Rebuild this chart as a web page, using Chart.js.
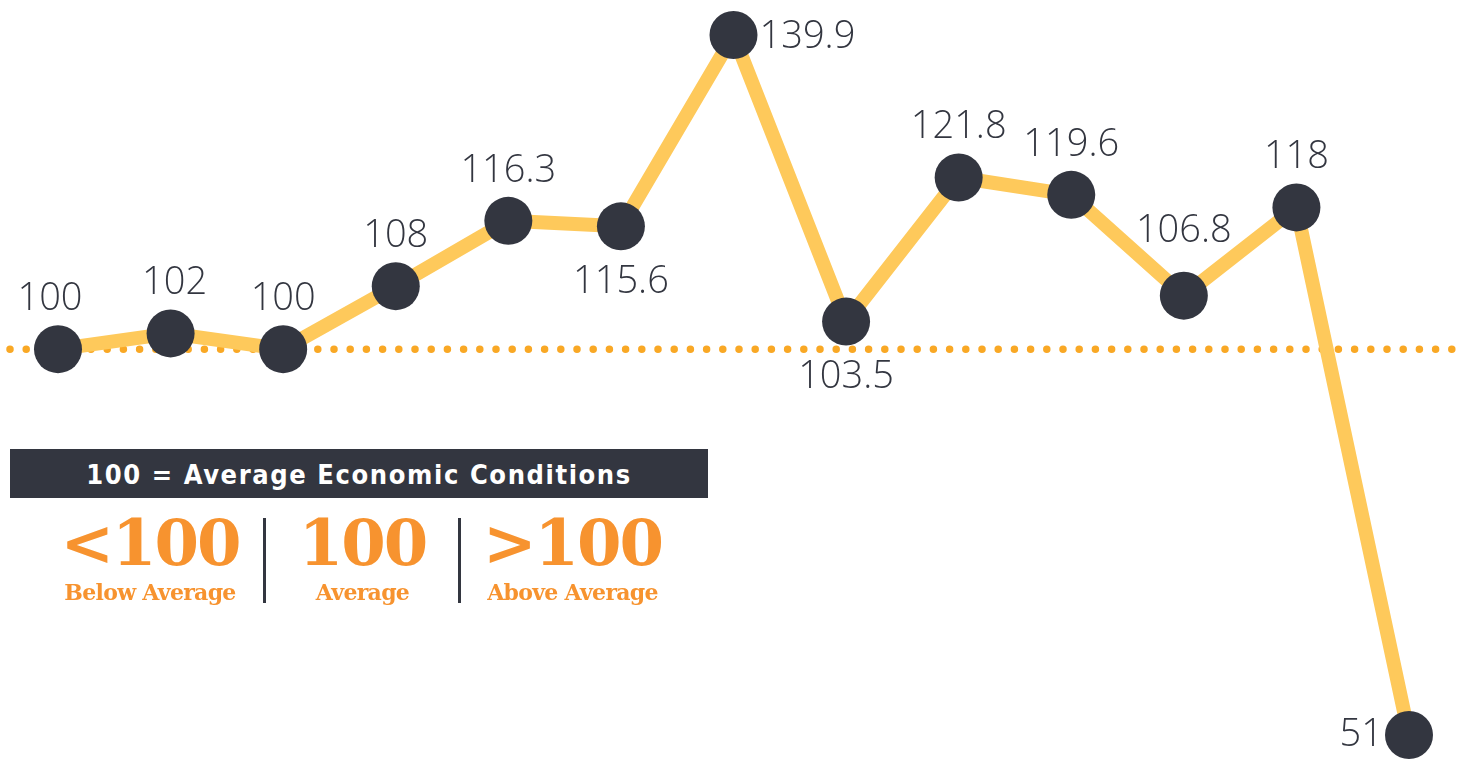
<!DOCTYPE html>
<html>
<head>
<meta charset="utf-8">
<script src="https://cdn.jsdelivr.net/npm/chart.js@4/dist/chart.umd.min.js"></script>
<style>
  html, body { margin: 0; padding: 0; background: #fff; }
  #wrap { position: relative; width: 1463px; height: 759px; overflow: hidden; }
  canvas { position: absolute; left: 0; top: 0; }
  #key-bar {
    position: absolute; left: 10px; top: 449px; width: 698px; height: 49px;
    background: #333640; color: #fff; text-align: center;
    font: bold 27px "DejaVu Sans", sans-serif; font-stretch: condensed;
    letter-spacing: 1.6px; line-height: 52px;
  }
  .col { position: absolute; top: 505px; text-align: center; color: #f7932f;
    font-family: "DejaVu Serif", "Liberation Serif", serif; font-weight: bold; white-space: nowrap; }
  .col .big { font-size: 64px; line-height: 76px; letter-spacing: -2px; }
  .col .small { font-size: 22px; line-height: 22px; letter-spacing: -0.7px; }
  .divider { position: absolute; top: 518px; width: 3px; height: 85px; background: #333640; }
</style>
</head>
<body>
<div id="wrap">
  <canvas id="chart" width="1463" height="759"></canvas>
  <div id="key-bar">100 = Average Economic Conditions</div>
  <div class="col" style="left:35px;width:230px"><div class="big">&lt;100</div><div class="small">Below Average</div></div>
  <div class="divider" style="left:263px"></div>
  <div class="col" style="left:265px;width:195px"><div class="big">100</div><div class="small">Average</div></div>
  <div class="divider" style="left:458px"></div>
  <div class="col" style="left:460px;width:225px"><div class="big">&gt;100</div><div class="small">Above Average</div></div>
</div>
<script>
// Chart data
const periods = ['1', '2', '3', '4', '5', '6', '7', '8', '9', '10', '11', '12', '13'];
const indexValues = [100, 102, 100, 108, 116.3, 115.6, 139.9, 103.5, 121.8, 119.6, 106.8, 118, 51];
const valueLabels = ['100', '102', '100', '108', '116.3', '115.6', '139.9', '103.5', '121.8', '119.6', '106.8', '118', '51'];
const averageLevel = 100;

// where each label sits relative to its point
const labelPlacement = ['top', 'top', 'top', 'top', 'top', 'bottom', 'right', 'bottom', 'top', 'top', 'top', 'top', 'left'];

// Dotted average line across the whole width
const averageLinePlugin = {
    id: 'averageLine',
    beforeDatasetsDraw(chart) {
        const ctx = chart.ctx;
        const y = chart.scales.y.getPixelForValue(averageLevel);
        ctx.save();
        ctx.strokeStyle = '#f9a825';
        ctx.lineWidth = 7.5;
        ctx.lineCap = 'round';
        ctx.setLineDash([0, 16.2]);
        ctx.beginPath();
        ctx.moveTo(10, y);
        ctx.lineTo(1452, y);
        ctx.stroke();
        ctx.restore();
    }
};

// Value labels next to each point
const valueLabelPlugin = {
    id: 'valueLabels',
    afterDatasetsDraw(chart) {
        const ctx = chart.ctx;
        const meta = chart.getDatasetMeta(0);
        ctx.save();
        ctx.font = '300 38px "Open Sans", "Noto Sans", sans-serif';
        ctx.fillStyle = '#333640';
        ctx.textBaseline = 'middle';
        meta.data.forEach((pt, i) => {
            const place = labelPlacement[i];
            let x = pt.x, y = pt.y;
            ctx.textAlign = 'center';
            if (place === 'top') {
                y -= 50;
                if (i === 10) y -= 14;
                if (i === 0) x -= 8;
                if (i === 1) x += 4;
            } else if (place === 'bottom') {
                y += 56;
            } else if (place === 'right') {
                ctx.textAlign = 'left';
                x += 26;
                y += 2;
            } else if (place === 'left') {
                ctx.textAlign = 'right';
                x -= 26;
            }
            ctx.fillText(valueLabels[i], x, y);
        });
        ctx.restore();
    }
};

new Chart(document.getElementById('chart'), {
    type: 'line',
    data: {
        labels: periods,
        datasets: [{
            data: indexValues,
            borderColor: '#fec95b',
            borderWidth: 14,
            borderJoinStyle: 'round',
            tension: 0,
            clip: false,
            pointRadius: 24,
            pointBackgroundColor: '#333640',
            pointBorderWidth: 0,
            pointHoverRadius: 24
        }]
    },
    options: {
        responsive: false,
        animation: false,
        events: [],
        layout: { padding: { left: 58, right: 54, top: 35, bottom: 24 } },
        scales: {
            x: { display: false, offset: false },
            y: { display: false, min: 51, max: 139.9 }
        },
        plugins: {
            legend: { display: false },
            tooltip: { enabled: false }
        }
    },
    plugins: [averageLinePlugin, valueLabelPlugin]
});
</script>
</body>
</html>
